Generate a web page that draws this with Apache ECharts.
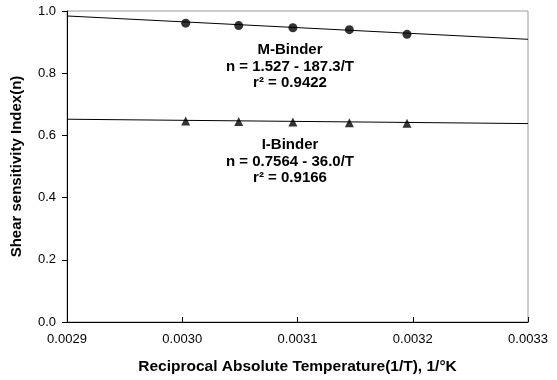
<!DOCTYPE html>
<html>
<head>
<meta charset="utf-8">
<script src="https://cdn.jsdelivr.net/npm/echarts@6/dist/echarts.min.js"></script>
<style>html,body{margin:0;padding:0;background:#fff;}#c{width:557px;height:380px;}</style>
</head>
<body>
<div id="c"></div>
<script>
// Data
const invT = [0.003003, 0.003049, 0.003096, 0.003145, 0.003195];
const mBinder = [0.961, 0.953, 0.946, 0.940, 0.925];
const iBinder = [0.646, 0.645, 0.643, 0.641, 0.639];
const mFitX = [0.0029, 0.0033];
const mFitY = [0.984, 0.909];
const iFitX = [0.0029, 0.0033];
const iFitY = [0.652, 0.638];
const mLabel = ['M-Binder', 'n = 1.527 - 187.3/T', 'r\u00B2 = 0.9422'];
const iLabel = ['I-Binder', 'n = 0.7564 - 36.0/T', 'r\u00B2 = 0.9166'];

const zip = (a, b) => a.map((v, i) => [v, b[i]]);
const font = '"Liberation Sans", Arial, sans-serif';

const chart = echarts.init(document.getElementById('c'), null, {renderer: 'canvas'});
const textLines = (arr, top) => arr.map((t, i) => ({
  type: 'text', x: 290, y: top + i * 16.5,
  style: {text: t, align: 'center', verticalAlign: 'middle', font: 'bold 15px ' + font, fill: '#000'}
}));
chart.setOption({
  animation: false,
  backgroundColor: '#fff',
  grid: {left: 67, right: 29, top: 11, bottom: 57, show: true, borderColor: '#9a9a9a', borderWidth: 1},
  xAxis: {
    type: 'value', min: 0.0029, max: 0.0033, interval: 0.0001,
    axisLine: {show: true, onZero: false, lineStyle: {color: '#000', width: 1}},
    axisTick: {show: true, inside: true, length: 5, lineStyle: {color: '#000'}},
    splitLine: {show: false},
    axisLabel: {color: '#000', fontFamily: font, fontSize: 13, margin: 11,
      formatter: v => v.toFixed(4)},
    name: 'Reciprocal Absolute Temperature(1/T), 1/\u00B0K',
    nameLocation: 'middle', nameGap: 37,
    nameTextStyle: {color: '#000', fontFamily: font, fontSize: 15.5, fontWeight: 'bold'}
  },
  yAxis: {
    type: 'value', min: 0, max: 1, interval: 0.2,
    axisLine: {show: true, lineStyle: {color: '#000', width: 1}},
    axisTick: {show: true, inside: false, length: 5, lineStyle: {color: '#000'}},
    splitLine: {show: false},
    axisLabel: {color: '#000', fontFamily: font, fontSize: 13, margin: 11,
      formatter: v => v.toFixed(1)},
    name: 'Shear sensitivity Index(n)',
    nameLocation: 'middle', nameGap: 43,
    nameTextStyle: {color: '#000', fontFamily: font, fontSize: 15, fontWeight: 'bold'}
  },
  series: [
    {type: 'line', data: zip(mFitX, mFitY), symbol: 'none', lineStyle: {color: '#000', width: 1}, z: 2},
    {type: 'line', data: zip(iFitX, iFitY), symbol: 'none', lineStyle: {color: '#000', width: 1}, z: 2},
    {type: 'scatter', data: zip(invT, mBinder), symbol: 'circle', symbolSize: 9, itemStyle: {color: '#000'}, z: 3},
    {type: 'scatter', data: zip(invT, iBinder), symbol: 'triangle', symbolSize: 9, itemStyle: {color: '#000'}, z: 3}
  ],
  graphic: [].concat(textLines(mLabel, 50), textLines(iLabel, 145))
});
</script>
</body>
</html>
